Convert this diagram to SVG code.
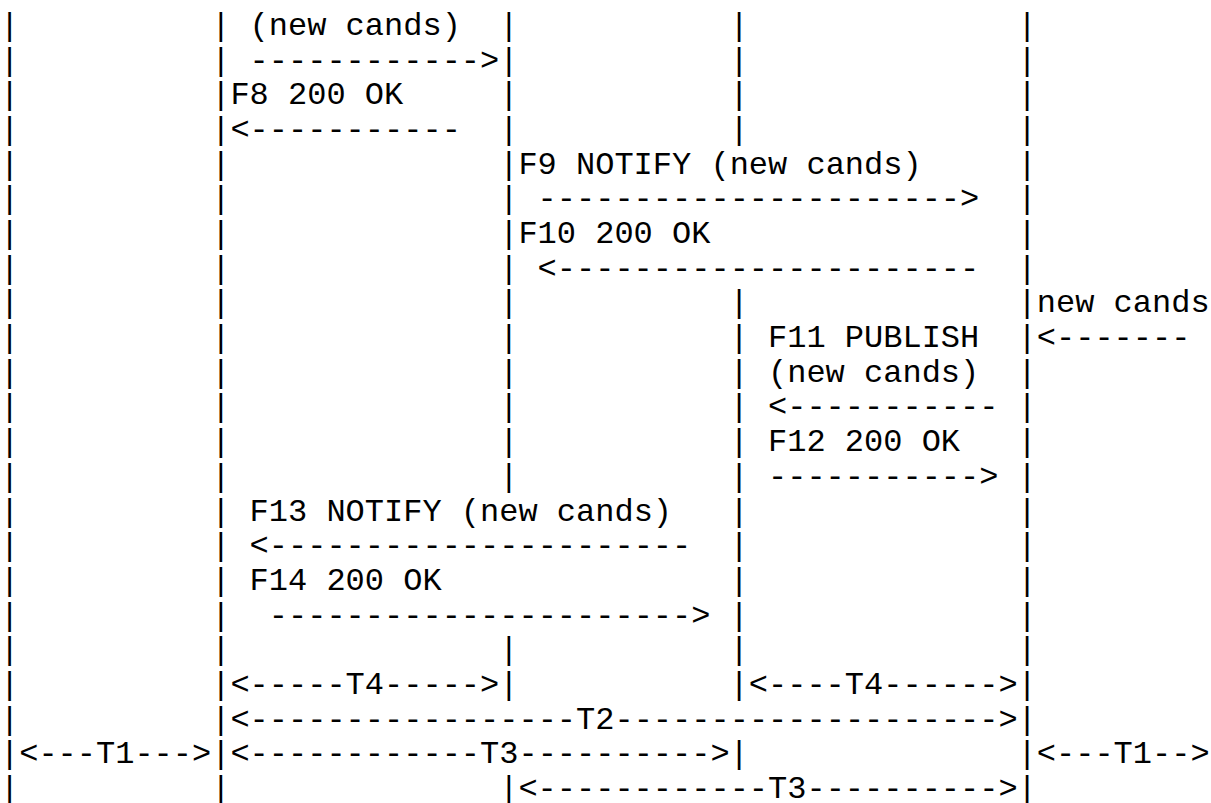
<svg xmlns="http://www.w3.org/2000/svg" width="1211" height="803" viewBox="0 0 1211 803">
<style>
.t{font-family:"Liberation Mono","DejaVu Sans Mono",monospace;font-size:32px;fill:#000;white-space:pre}
</style>
<rect width="1211" height="803" fill="#fff"/>
<g id="lifeline-1">
<text class="t"><tspan x="0" y="35">|</tspan><tspan x="0" y="69.68">|</tspan><tspan x="0" y="104.36">|</tspan><tspan x="0" y="139.04">|</tspan><tspan x="0" y="173.72">|</tspan><tspan x="0" y="208.4">|</tspan><tspan x="0" y="243.08">|</tspan><tspan x="0" y="277.76">|</tspan><tspan x="0" y="312.44">|</tspan><tspan x="0" y="347.12">|</tspan><tspan x="0" y="381.8">|</tspan><tspan x="0" y="416.48">|</tspan><tspan x="0" y="451.16">|</tspan><tspan x="0" y="485.84">|</tspan><tspan x="0" y="520.52">|</tspan><tspan x="0" y="555.2">|</tspan><tspan x="0" y="589.88">|</tspan><tspan x="0" y="624.56">|</tspan><tspan x="0" y="659.24">|</tspan><tspan x="0" y="693.92">|</tspan><tspan x="0" y="728.6">|</tspan><tspan x="0" y="763.28">|</tspan><tspan x="0" y="797.96">|</tspan></text>
</g>
<g id="lifeline-2">
<text class="t"><tspan x="211.2" y="35">|</tspan><tspan x="211.2" y="69.68">|</tspan><tspan x="211.2" y="104.36">|</tspan><tspan x="211.2" y="139.04">|</tspan><tspan x="211.2" y="173.72">|</tspan><tspan x="211.2" y="208.4">|</tspan><tspan x="211.2" y="243.08">|</tspan><tspan x="211.2" y="277.76">|</tspan><tspan x="211.2" y="312.44">|</tspan><tspan x="211.2" y="347.12">|</tspan><tspan x="211.2" y="381.8">|</tspan><tspan x="211.2" y="416.48">|</tspan><tspan x="211.2" y="451.16">|</tspan><tspan x="211.2" y="485.84">|</tspan><tspan x="211.2" y="520.52">|</tspan><tspan x="211.2" y="555.2">|</tspan><tspan x="211.2" y="589.88">|</tspan><tspan x="211.2" y="624.56">|</tspan><tspan x="211.2" y="659.24">|</tspan><tspan x="211.2" y="693.92">|</tspan><tspan x="211.2" y="728.6">|</tspan><tspan x="211.2" y="763.28">|</tspan><tspan x="211.2" y="797.96">|</tspan></text>
</g>
<g id="lifeline-3">
<text class="t"><tspan x="499.2" y="35">|</tspan><tspan x="499.2" y="69.68">|</tspan><tspan x="499.2" y="104.36">|</tspan><tspan x="499.2" y="139.04">|</tspan><tspan x="499.2" y="173.72">|</tspan><tspan x="499.2" y="208.4">|</tspan><tspan x="499.2" y="243.08">|</tspan><tspan x="499.2" y="277.76">|</tspan><tspan x="499.2" y="312.44">|</tspan><tspan x="499.2" y="347.12">|</tspan><tspan x="499.2" y="381.8">|</tspan><tspan x="499.2" y="416.48">|</tspan><tspan x="499.2" y="451.16">|</tspan><tspan x="499.2" y="485.84">|</tspan><tspan x="499.2" y="659.24">|</tspan><tspan x="499.2" y="693.92">|</tspan><tspan x="499.2" y="797.96">|</tspan></text>
</g>
<g id="lifeline-4">
<text class="t"><tspan x="729.6" y="35">|</tspan><tspan x="729.6" y="69.68">|</tspan><tspan x="729.6" y="104.36">|</tspan><tspan x="729.6" y="139.04">|</tspan><tspan x="729.6" y="312.44">|</tspan><tspan x="729.6" y="347.12">|</tspan><tspan x="729.6" y="381.8">|</tspan><tspan x="729.6" y="416.48">|</tspan><tspan x="729.6" y="451.16">|</tspan><tspan x="729.6" y="485.84">|</tspan><tspan x="729.6" y="520.52">|</tspan><tspan x="729.6" y="555.2">|</tspan><tspan x="729.6" y="589.88">|</tspan><tspan x="729.6" y="624.56">|</tspan><tspan x="729.6" y="659.24">|</tspan><tspan x="729.6" y="693.92">|</tspan><tspan x="729.6" y="763.28">|</tspan></text>
</g>
<g id="lifeline-5">
<text class="t"><tspan x="1017.6" y="35">|</tspan><tspan x="1017.6" y="69.68">|</tspan><tspan x="1017.6" y="104.36">|</tspan><tspan x="1017.6" y="139.04">|</tspan><tspan x="1017.6" y="173.72">|</tspan><tspan x="1017.6" y="208.4">|</tspan><tspan x="1017.6" y="243.08">|</tspan><tspan x="1017.6" y="277.76">|</tspan><tspan x="1017.6" y="312.44">|</tspan><tspan x="1017.6" y="347.12">|</tspan><tspan x="1017.6" y="381.8">|</tspan><tspan x="1017.6" y="416.48">|</tspan><tspan x="1017.6" y="451.16">|</tspan><tspan x="1017.6" y="485.84">|</tspan><tspan x="1017.6" y="520.52">|</tspan><tspan x="1017.6" y="555.2">|</tspan><tspan x="1017.6" y="589.88">|</tspan><tspan x="1017.6" y="624.56">|</tspan><tspan x="1017.6" y="659.24">|</tspan><tspan x="1017.6" y="693.92">|</tspan><tspan x="1017.6" y="728.6">|</tspan><tspan x="1017.6" y="763.28">|</tspan><tspan x="1017.6" y="797.96">|</tspan></text>
</g>
<g id="connectors">
<text class="t" x="249.6" y="35">(new cands)</text>
<text class="t" x="249.6" y="69.68">------------&gt;</text>
<text class="t" x="230.4" y="104.36">F8 200 OK</text>
<text class="t" x="230.4" y="139.04">&lt;-----------</text>
<text class="t" x="518.4" y="173.72">F9 NOTIFY (new cands)</text>
<text class="t" x="537.6" y="208.4">----------------------&gt;</text>
<text class="t" x="518.4" y="243.08">F10 200 OK</text>
<text class="t" x="537.6" y="277.76">&lt;----------------------</text>
<text class="t" x="1036.8" y="312.44">new cands</text>
<text class="t" x="768" y="347.12">F11 PUBLISH</text>
<text class="t" x="1036.8" y="347.12">&lt;-------</text>
<text class="t" x="768" y="381.8">(new cands)</text>
<text class="t" x="768" y="416.48">&lt;-----------</text>
<text class="t" x="768" y="451.16">F12 200 OK</text>
<text class="t" x="768" y="485.84">-----------&gt;</text>
<text class="t" x="249.6" y="520.52">F13 NOTIFY (new cands)</text>
<text class="t" x="249.6" y="555.2">&lt;----------------------</text>
<text class="t" x="249.6" y="589.88">F14 200 OK</text>
<text class="t" x="268.8" y="624.56">----------------------&gt;</text>
</g>
<g id="timers">
<text class="t" x="230.4" y="693.92">&lt;-----T4-----&gt;</text>
<text class="t" x="748.8" y="693.92">&lt;----T4------&gt;</text>
<text class="t" x="230.4" y="728.6">&lt;-----------------T2--------------------&gt;</text>
<text class="t" x="19.2" y="763.28">&lt;---T1---&gt;</text>
<text class="t" x="230.4" y="763.28">&lt;------------T3----------&gt;</text>
<text class="t" x="1036.8" y="763.28">&lt;---T1--&gt;</text>
<text class="t" x="518.4" y="797.96">&lt;------------T3----------&gt;</text>
</g>
</svg>
